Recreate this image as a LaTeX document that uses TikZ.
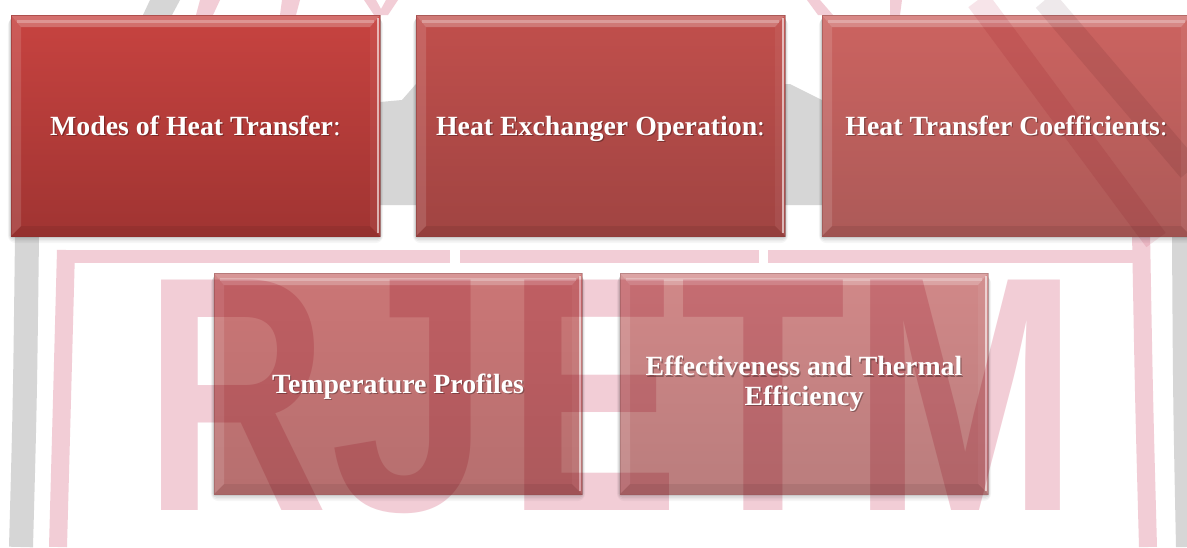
\documentclass[tikz,border=0pt]{standalone}
\usepackage{fontspec}
\setmainfont{Liberation Serif}
\newfontfamily\markfont{Liberation Sans}

\definecolor{markpink}{RGB}{242,205,214}
\definecolor{markgray}{RGB}{214,214,214}
\definecolor{bandpink}{RGB}{247,228,233}
\definecolor{bandgray}{RGB}{238,233,235}
\definecolor{boxAtop}{RGB}{199,67,64}
\definecolor{boxAbot}{RGB}{160,52,50}
\definecolor{boxBtop}{RGB}{193,79,76}
\definecolor{boxBbot}{RGB}{160,68,66}
\definecolor{boxCtop}{RGB}{204,99,96}
\definecolor{boxCbot}{RGB}{172,90,88}
\definecolor{boxDtop}{RGB}{203,118,118}
\definecolor{boxDbot}{RGB}{182,111,111}
\definecolor{boxEtop}{RGB}{209,136,136}
\definecolor{boxEbot}{RGB}{186,125,125}

\tikzset{
  boxface/.style={draw=none, inner sep=0pt, outer sep=0pt},
  boxtext/.style={text=white, font=\bfseries\fontsize{27.8}{29.5}\selectfont,
    align=center, inner sep=0pt},
  oneline/.style={text height=19pt, text depth=0pt},
  shadowtext/.style={text=black, text opacity=0.3},
  markletter/.style={text=markpink, font=\markfont\bfseries\fontsize{335}{335}\selectfont,
    inner sep=0pt, anchor=base},
  markstroke/.style={line width=#1, line cap=butt},
}

% bevelled box: name, x1, y1, x2, y2, top colour, bottom colour
\newcommand\bevelbox[7]{%
  \foreach \s/\o in {8/0.035,6/0.045,4/0.06,2/0.08}{%
    \fill[black, opacity=\o, rounded corners=\s pt]
      ({#2-\s*0.4},{#3+3}) rectangle ({#4+\s*0.4},{#5+\s*0.9});
  }%
  \node[boxface, top color=#6, bottom color=#7,
        minimum width={#4-#2}, minimum height={#5-#3}]
    (#1) at ({(#2+#4)/2},{(#3+#5)/2}) {};
  % top bevel
  \fill[white, opacity=0.24] (#1.north west) -- (#1.north east)
    -- ([xshift=-10pt,yshift=-12pt]#1.north east)
    -- ([xshift=10pt,yshift=-12pt]#1.north west) -- cycle;
  \draw[white, opacity=0.26, line width=3pt]
    ([xshift=6pt,yshift=-6pt]#1.north west) -- ([xshift=-6pt,yshift=-6pt]#1.north east);
  % left bevel
  \fill[white, opacity=0.13] (#1.north west)
    -- ([xshift=10pt,yshift=-12pt]#1.north west)
    -- ([xshift=10pt,yshift=10pt]#1.south west)
    -- (#1.south west) -- cycle;
  % right bevel
  \fill[white, opacity=0.06] (#1.north east)
    -- ([xshift=-10pt,yshift=-12pt]#1.north east)
    -- ([xshift=-10pt,yshift=10pt]#1.south east)
    -- (#1.south east) -- cycle;
  \draw[white, opacity=0.6, line width=1.6pt]
    ([xshift=-2pt,yshift=-3pt]#1.north east) -- ([xshift=-2pt,yshift=3pt]#1.south east);
  % bottom bevel
  \fill[black, opacity=0.07] (#1.south west)
    -- ([xshift=10pt,yshift=10pt]#1.south west)
    -- ([xshift=-10pt,yshift=10pt]#1.south east)
    -- (#1.south east) -- cycle;
  \draw[#7!80!black, opacity=0.45, line width=0.8pt]
    (#1.north west) rectangle (#1.south east);
}

% label with a soft dark shadow: box name, extra style, text
\newcommand\boxlabel[3]{%
  \node[boxtext, #2, shadowtext] (#1s) at ([xshift=1.2pt,yshift=-1.6pt]#1.center) {#3};
  \node[boxtext, #2] (#1t) at (#1.center) {#3};
}

\begin{document}
\begin{tikzpicture}[x=1pt,y=-1pt]
\useasboundingbox (0,0) rectangle (1187,547);
\fill[white] (0,0) rectangle (1187,547);
\clip (0,0) rectangle (1187,547);

% ---- background seal: rings and bars
\fill[markgray] (380,102) -- (402,100) -- (416,84) -- (790,84) -- (822,100)
  -- (1170,100) -- (1170,205) -- (380,205) -- cycle;
\draw[markgray, markstroke=24pt] (27,236) .. controls (25,400) .. (21,547);
\draw[markgray, markstroke=20pt] (1182,236) .. controls (1183,400) .. (1186,547);
\draw[markpink, markstroke=18pt] (66,250) .. controls (62,400) .. (58,547);
\draw[markpink, markstroke=18pt] (1141,232) .. controls (1144,400) .. (1148,547);
\fill[markpink] (57,250) rectangle (450,263);
\fill[markpink] (460,250) rectangle (759,263);
\fill[markpink] (768,250) rectangle (1150,263);
% small marks along the top edge
\fill[markgray] (150,0) -- (180,0) -- (172,15) -- (143,15) -- cycle;
\fill[markpink] (200,0) -- (220,0) -- (213,15) -- (196,15) -- cycle;
\fill[markpink] (282,0) -- (300,0) -- (296,15) -- (280,15) -- cycle;
\fill[markpink] (364,0) -- (376,0) -- (381,9) -- (386,0) -- (398,0)
  -- (388,15) -- (374,15) -- cycle;
\fill[markpink] (807,0) -- (820,0) -- (833,15) -- (818,15) -- cycle;
\fill[markpink] (890,0) -- (902,0) -- (900,15) -- (890,15) -- cycle;

% ---- boxes
\bevelbox{b1}{11}{15}{380}{236}{boxAtop}{boxAbot}
\bevelbox{b2}{416}{15}{785}{236}{boxBtop}{boxBbot}
\bevelbox{b3}{822}{15}{1191}{236}{boxCtop}{boxCbot}
\bevelbox{b4}{214}{273}{582}{494}{boxDtop}{boxDbot}
\bevelbox{b5}{620}{273}{988}{494}{boxEtop}{boxEbot}

% ---- seal lettering and strokes, multiplied over the boxes
\begin{scope}[blend mode=multiply]
  \draw[bandpink, markstroke=24pt] (978,0) -- (1156,240);
  \draw[bandgray, markstroke=24pt] (1045,0) -- (1190,170);
  \node[markletter, xscale=0.76] (sR) at (236,510) {R};
  \node[markletter, xscale=0.86] (sJ) at (411,510) {J};
  \node[markletter, xscale=0.77] (sE) at (594,510) {E};
  \node[markletter, xscale=0.81] (sT) at (763,510) {T};
  \node[markletter, xscale=0.81] (sM) at (966,510) {M};
\end{scope}

% ---- labels
\boxlabel{b1}{oneline}{Modes of Heat Transfer{\mdseries:}}
\boxlabel{b2}{oneline}{Heat Exchanger Operation{\mdseries:}}
\boxlabel{b3}{oneline}{Heat Transfer Coefficients{\mdseries:}}
\boxlabel{b4}{oneline}{Temperature Profiles}
\boxlabel{b5}{}{Effectiveness and Thermal\\Efficiency}
\end{tikzpicture}
\end{document}
